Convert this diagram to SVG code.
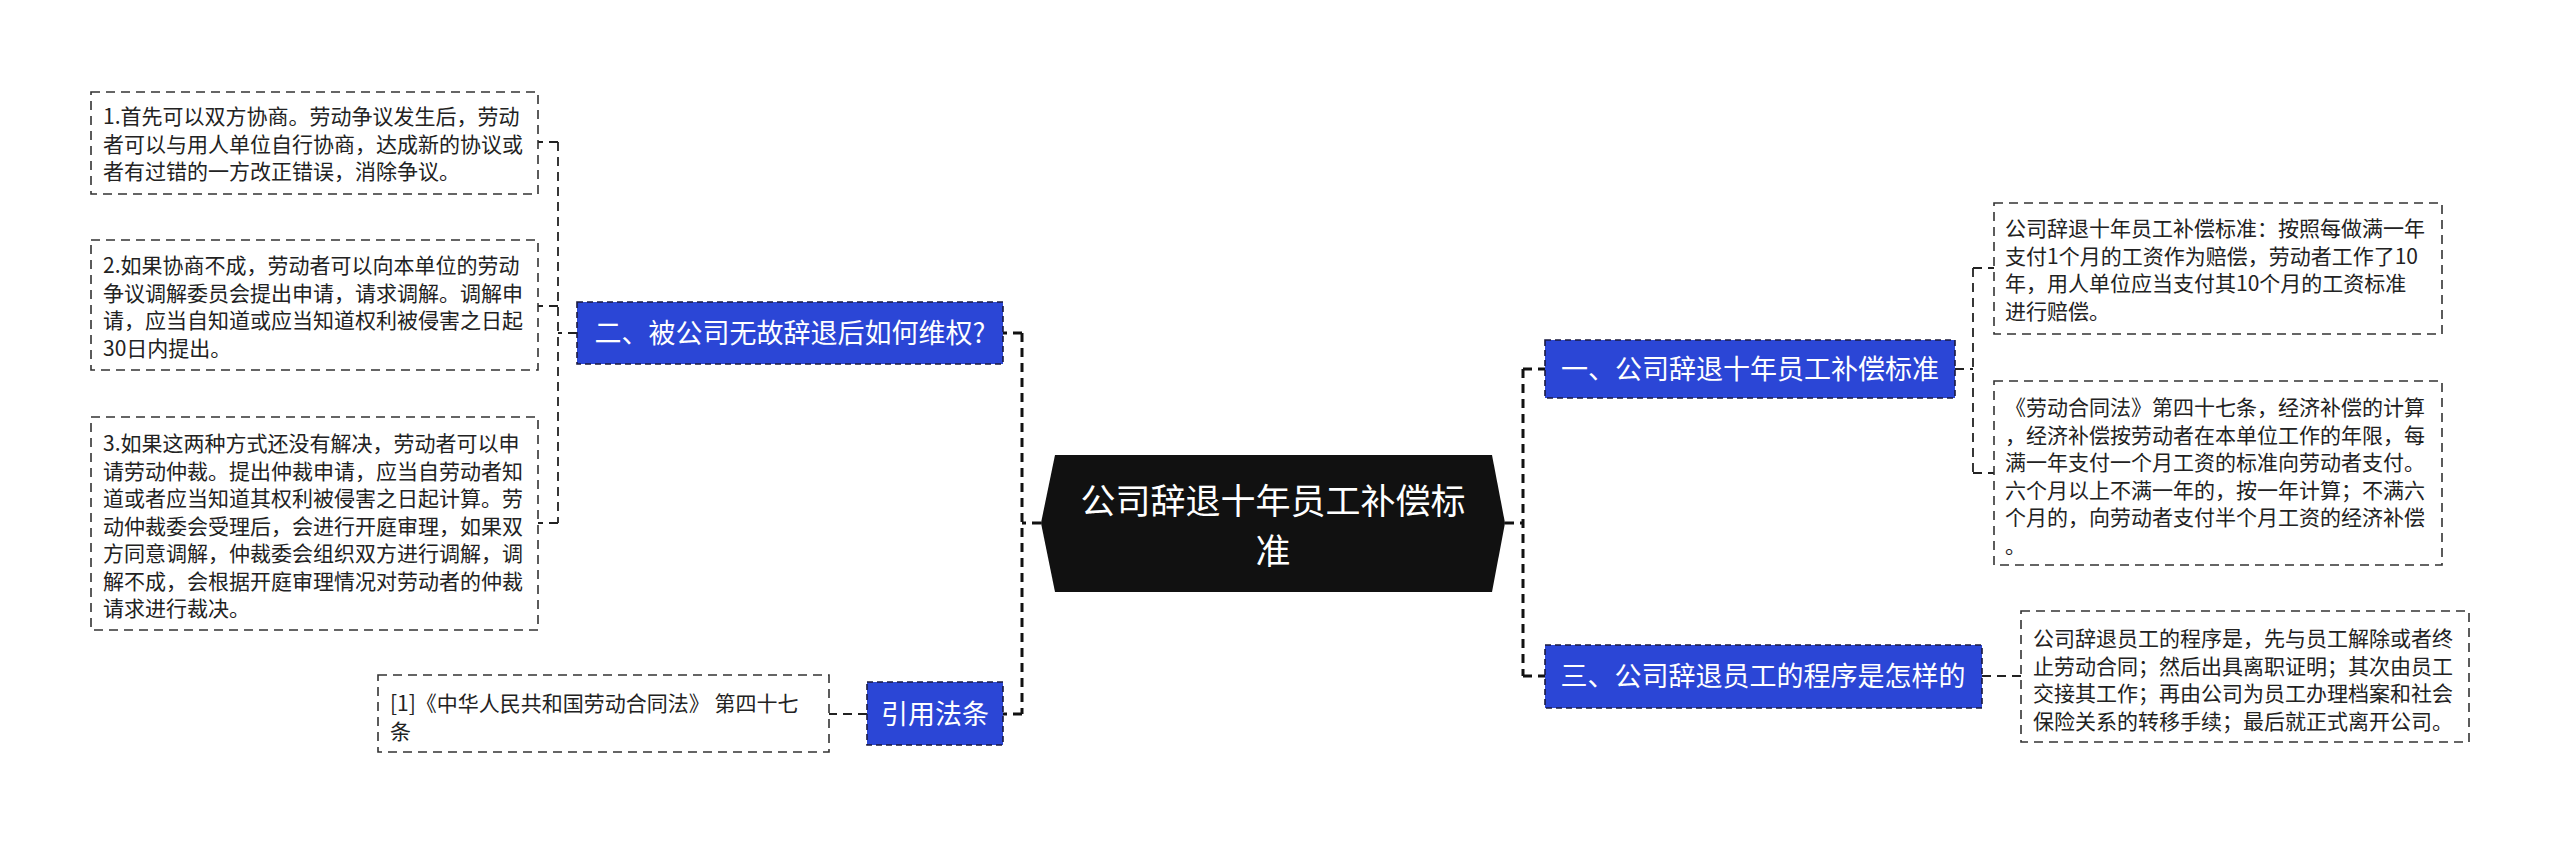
<svg xmlns="http://www.w3.org/2000/svg" width="2560" height="843" viewBox="0 0 2560 843">
<style>
text{font-family:"Noto Sans CJK SC","Noto Sans",sans-serif;}
.box{fill:#fff;stroke:#333;stroke-width:1.6;stroke-dasharray:9 6;}
.bt{font-size:21px;fill:#222;}
.br{fill:#2b46d6;stroke:#1a1a40;stroke-width:1.6;stroke-dasharray:6 4;}
.brt{font-size:27px;fill:#fff;text-anchor:middle;}
.c1{fill:none;stroke:#111;stroke-width:3;stroke-dasharray:9 6;}
.c2{fill:none;stroke:#222;stroke-width:1.8;stroke-dasharray:9 6;}
.ct{font-size:35px;fill:#fff;text-anchor:middle;}
</style>
<rect width="2560" height="843" fill="#fff"/>
<g id="connectors">
<path class="c1" d="M1041,523 H1022 M1022,333 V714 M1022,333 H1003 M1022,714 H1003"/>
<path class="c1" d="M1505,523 H1523 M1523,369 V676 M1523,369 H1545 M1523,676 H1545"/>
<path class="c2" d="M577,333 H558 M558,142 V523 M558,142 H538 M558,306 H538 M558,523 H538"/>
<path class="c2" d="M867,714 H829"/>
<path class="c2" d="M1955,369 H1973 M1973,268 V473 M1973,268 H1994 M1973,473 H1994"/>
<path class="c2" d="M1982,676 H2021"/>
</g>
<g id="center">
<polygon points="1055,455 1492,455 1505,523 1492,592 1055,592 1041,523" fill="#111"/>
<text class="ct" x="1273" y="514">公司辞退十年员工补偿标</text>
<text class="ct" x="1273" y="564">准</text>
</g>
<g id="b2">
<rect class="br" x="577" y="302" width="426" height="62"/>
<text class="brt" x="790" y="343">二、被公司无故辞退后如何维权?</text>
</g>
<g id="bref">
<rect class="br" x="867" y="682" width="136" height="63"/>
<text class="brt" x="935" y="724">引用法条</text>
</g>
<g id="b1">
<rect class="br" x="1545" y="340" width="410" height="58"/>
<text class="brt" x="1750" y="379">一、公司辞退十年员工补偿标准</text>
</g>
<g id="b3">
<rect class="br" x="1545" y="645" width="437" height="63"/>
<text class="brt" x="1763" y="686">三、公司辞退员工的程序是怎样的</text>
</g>
<g id="l1">
<rect class="box" x="91" y="92" width="447" height="102"/>
<text class="bt" x="103" y="124">1.首先可以双方协商。劳动争议发生后，劳动</text>
<text class="bt" x="103" y="151.5">者可以与用人单位自行协商，达成新的协议或</text>
<text class="bt" x="103" y="179">者有过错的一方改正错误，消除争议。</text>
</g>
<g id="l2">
<rect class="box" x="91" y="240" width="447" height="130"/>
<text class="bt" x="103" y="273">2.如果协商不成，劳动者可以向本单位的劳动</text>
<text class="bt" x="103" y="300.5">争议调解委员会提出申请，请求调解。调解申</text>
<text class="bt" x="103" y="328">请，应当自知道或应当知道权利被侵害之日起</text>
<text class="bt" x="103" y="355.5">30日内提出。</text>
</g>
<g id="l3">
<rect class="box" x="91" y="417" width="447" height="213"/>
<text class="bt" x="103" y="451">3.如果这两种方式还没有解决，劳动者可以申</text>
<text class="bt" x="103" y="478.5">请劳动仲裁。提出仲裁申请，应当自劳动者知</text>
<text class="bt" x="103" y="506">道或者应当知道其权利被侵害之日起计算。劳</text>
<text class="bt" x="103" y="533.5">动仲裁委会受理后，会进行开庭审理，如果双</text>
<text class="bt" x="103" y="561">方同意调解，仲裁委会组织双方进行调解，调</text>
<text class="bt" x="103" y="588.5">解不成，会根据开庭审理情况对劳动者的仲裁</text>
<text class="bt" x="103" y="616">请求进行裁决。</text>
</g>
<g id="ref">
<rect class="box" x="378" y="675" width="451" height="77"/>
<text class="bt" x="390" y="711">[1]《中华人民共和国劳动合同法》 第四十七</text>
<text class="bt" x="390" y="738.5">条</text>
</g>
<g id="r1">
<rect class="box" x="1994" y="203" width="448" height="131"/>
<text class="bt" x="2005" y="236">公司辞退十年员工补偿标准：按照每做满一年</text>
<text class="bt" x="2005" y="263.5">支付1个月的工资作为赔偿，劳动者工作了10</text>
<text class="bt" x="2005" y="291">年，用人单位应当支付其10个月的工资标准</text>
<text class="bt" x="2005" y="318.5">进行赔偿。</text>
</g>
<g id="r2">
<rect class="box" x="1994" y="381" width="448" height="184"/>
<text class="bt" x="2005" y="415">《劳动合同法》第四十七条，经济补偿的计算</text>
<text class="bt" x="2005" y="442.5">，经济补偿按劳动者在本单位工作的年限，每</text>
<text class="bt" x="2005" y="470">满一年支付一个月工资的标准向劳动者支付。</text>
<text class="bt" x="2005" y="497.5">六个月以上不满一年的，按一年计算；不满六</text>
<text class="bt" x="2005" y="525">个月的，向劳动者支付半个月工资的经济补偿</text>
<text class="bt" x="2005" y="552.5">。</text>
</g>
<g id="r3">
<rect class="box" x="2021" y="611" width="448" height="131"/>
<text class="bt" x="2033" y="646">公司辞退员工的程序是，先与员工解除或者终</text>
<text class="bt" x="2033" y="673.5">止劳动合同；然后出具离职证明；其次由员工</text>
<text class="bt" x="2033" y="701">交接其工作；再由公司为员工办理档案和社会</text>
<text class="bt" x="2033" y="728.5">保险关系的转移手续；最后就正式离开公司。</text>
</g>
</svg>
